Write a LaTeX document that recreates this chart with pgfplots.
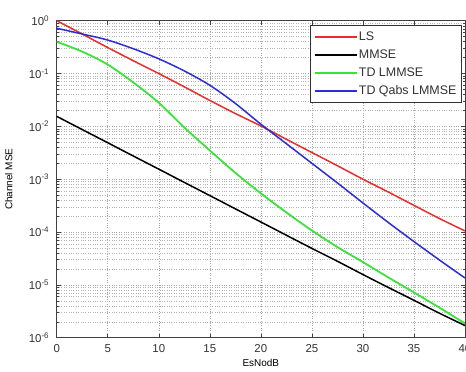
\documentclass[border=0pt]{standalone}
\usepackage{pgfplots}
\pgfplotsset{compat=1.18}
\usepackage{fontspec}
\setmainfont{Liberation Sans}
\definecolor{cred}{RGB}{232,45,45}
\definecolor{cgreen}{RGB}{60,225,60}
\definecolor{cblue}{RGB}{45,45,210}
\begin{document}
\begin{tikzpicture}
\begin{axis}[
  scale only axis,
  width=408.3bp, height=317bp,
  ymode=log,
  xmin=0, xmax=40, ymin=1e-6, ymax=1,
  xtick={0,5,...,40},
  ytick={1e-6,1e-5,1e-4,1e-3,1e-2,1e-1,1},
  yticklabels={10\textsuperscript{-6},10\textsuperscript{-5},10\textsuperscript{-4},10\textsuperscript{-3},10\textsuperscript{-2},10\textsuperscript{-1},10\textsuperscript{0}},
  minor x tick num=0,
  tick align=inside,
  major tick length=4bp, minor tick length=2bp,
  grid=both,
  major grid style={dotted, gray!70, line width=0.5bp},
  minor grid style={dotted, gray!60, line width=0.5bp},
  axis line style={black!75, line width=0.6bp},
  tick style={black!75, line width=0.5bp},
  /pgf/number format/assume math mode=true,
  tick label style={font=\fontsize{11.5}{13}\selectfont, text=black!80},
  xticklabel style={yshift=-3bp},
  yticklabel style={xshift=-4bp},
  xlabel={EsNodB}, ylabel={Channel MSE},
  label style={font=\fontsize{12}{14}\selectfont, text=black!80},
  every axis x label/.style={at={(axis description cs:0.5,-0.08)}, anchor=center},
  every axis y label/.style={at={(axis description cs:-0.117,0.5)}, rotate=90, anchor=center},
  legend style={at={(axis description cs:0.992,0.986)}, anchor=north east,
    draw=black!80, line width=0.5bp, fill=white,
    font=\fontsize{12.5}{14}\selectfont, text=black!80,
    inner xsep=4bp, inner ysep=5bp, row sep=5bp,
    nodes={inner sep=1bp, text height=9bp, text depth=2bp}},
  legend cell align=left,
  legend image code/.code={\draw[#1] (0bp,0bp) -- (42bp,0bp);},
]
\coordinate (sw) at (rel axis cs:0,0);
\coordinate (ne) at (rel axis cs:1,1);
\addplot[cred, line width=1.5bp, smooth] coordinates {
(0,1.0) (2.5,0.56) (5,0.31) (7.5,0.175) (10,0.1) (12.5,0.056) (15,0.031) (17.5,0.0175)
(20,0.0102) (22.5,0.0057) (25,0.0032) (27.5,0.0018) (30,0.001) (32.5,5.7e-4) (35,3.2e-4) (37.5,1.8e-4) (40,1.05e-4)};
\addlegendentry{LS}
\addplot[black, line width=1.5bp, smooth] coordinates {
(0,0.0155) (2.5,0.0087) (5,0.0049) (7.5,0.00275) (10,0.00155) (12.5,8.7e-4) (15,4.9e-4) (17.5,2.75e-4)
(20,1.55e-4) (22.5,8.7e-5) (25,4.9e-5) (27.5,2.8e-5) (30,1.57e-5) (32.5,8.9e-6) (35,5.1e-6) (37.5,2.9e-6) (40,1.7e-6)};
\addlegendentry{MMSE}
\addplot[cgreen, line width=1.8bp, smooth] coordinates {
(0,0.40) (2.5,0.26) (5,0.148) (7.5,0.068) (10,0.028) (12.5,0.0095) (15,0.0035) (17.5,0.00132)
(20,5.4e-4) (22.5,2.35e-4) (25,1.07e-4) (27.5,5.2e-5) (30,2.7e-5) (32.5,1.38e-5) (35,7.2e-6) (37.5,3.7e-6) (40,1.86e-6)};
\addlegendentry{TD LMMSE}
\addplot[cblue, line width=1.5bp, smooth] coordinates {
(0,0.72) (2.5,0.56) (5,0.43) (7.5,0.295) (10,0.19) (12.5,0.112) (15,0.060) (17.5,0.0272)
(20,0.011) (22.5,0.0047) (25,0.002) (27.5,8.5e-4) (30,3.55e-4) (32.5,1.51e-4) (35,6.6e-5) (37.5,2.95e-5) (40,1.35e-5)};
\addlegendentry{TD Qabs LMMSE}
\end{axis}
\pgfresetboundingbox
\useasboundingbox ([xshift=-56.7bp,yshift=-34.3bp]sw) rectangle ([xshift=1bp,yshift=20.7bp]ne);
\end{tikzpicture}
\end{document}
